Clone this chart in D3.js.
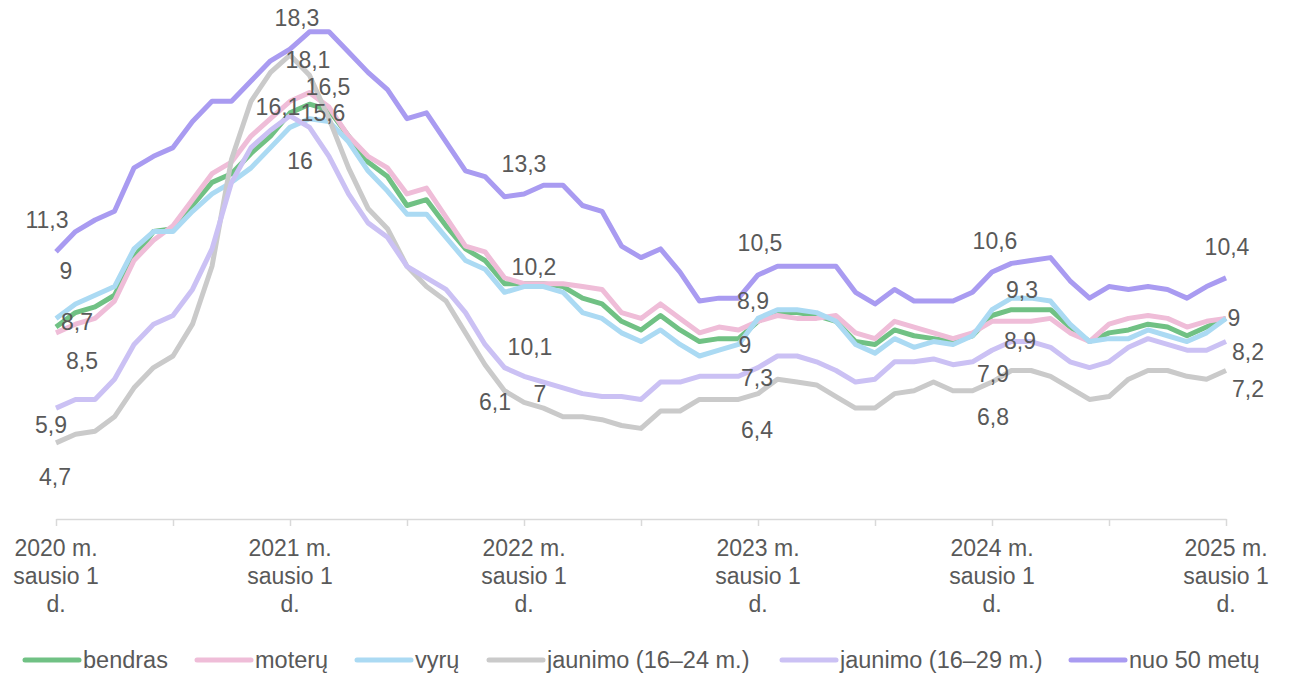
<!DOCTYPE html>
<html lang="lt">
<head>
  <meta charset="utf-8">
  <title>Nedarbo lygis</title>
  <script src="https://d3js.org/d3.v7.min.js"></script>
  <style>
    body {
      margin: 0;
      background: #ffffff;
      font-family: "Liberation Sans", Arial, Helvetica, sans-serif;
    }
    .line {
      fill: none;
      stroke-width: 5px;
      stroke-linejoin: round;
    }
    .data-label {
      font-size: 23px;
      fill: #595959;
    }
    .tick-label {
      font-size: 23px;
      fill: #595959;
    }
    .legend-label {
      font-size: 23.5px;
      fill: #595959;
    }
  </style>
</head>
<body>
<script>
// monthly points, 2020-01 .. 2025-01
var startMonth = new Date(2020, 0, 1);
var monthCount = 61;

var seriesNames = ["bendras", "moterų", "vyrų", "jaunimo (16–24 m.)", "jaunimo (16–29 m.)", "nuo 50 metų"];
var seriesColors = ["#70c184", "#efbdd8", "#abdaf3", "#cacaca", "#cbc1f4", "#a99bf1"];

var bendras = [8.7, 9.2, 9.4, 9.8, 11.1, 12.0, 12.1, 12.9, 13.7, 14.0, 14.7, 15.3,
  16.1, 16.4, 16.2, 15.3, 14.4, 13.9, 12.9, 13.1, 12.2, 11.4, 11.0, 10.2,
  10.2, 10.2, 10.1, 9.7, 9.5, 8.9, 8.6, 9.1, 8.6, 8.2, 8.3, 8.3,
  8.9, 9.2, 9.2, 9.1, 8.9, 8.2, 8.1, 8.6, 8.4, 8.3, 8.2, 8.4,
  9.1, 9.3, 9.3, 9.3, 8.7, 8.2, 8.5, 8.6, 8.8, 8.7, 8.4, 8.7,
  9.0];
var moteru = [8.5, 8.8, 9.0, 9.6, 11.0, 11.7, 12.2, 13.1, 14.0, 14.4, 15.3, 15.9,
  16.5, 16.8, 16.3, 15.3, 14.6, 14.2, 13.3, 13.5, 12.5, 11.5, 11.3, 10.4,
  10.2, 10.2, 10.2, 10.1, 10.0, 9.2, 9.0, 9.5, 9.0, 8.5, 8.7, 8.6,
  8.9, 9.1, 9.0, 9.0, 9.1, 8.5, 8.3, 8.9, 8.7, 8.5, 8.3, 8.5,
  8.9, 8.9, 8.9, 9.0, 8.5, 8.2, 8.8, 9.0, 9.1, 9.0, 8.7, 8.9,
  9.0];
var vyru = [9.0, 9.5, 9.8, 10.1, 11.4, 12.0, 12.0, 12.7, 13.3, 13.7, 14.2, 14.9,
  15.6, 15.9, 15.8, 15.1, 14.1, 13.4, 12.6, 12.6, 11.8, 11.0, 10.7, 9.9,
  10.1, 10.1, 9.9, 9.2, 9.0, 8.5, 8.2, 8.6, 8.1, 7.7, 7.9, 8.1,
  9.0, 9.3, 9.3, 9.2, 8.9, 8.1, 7.8, 8.3, 8.0, 8.2, 8.1, 8.4,
  9.3, 9.7, 9.7, 9.6, 8.8, 8.2, 8.3, 8.3, 8.6, 8.4, 8.2, 8.5,
  9.0];
var jaunimo1624 = [4.7, 5.0, 5.1, 5.6, 6.6, 7.3, 7.7, 8.8, 10.8, 14.5, 16.5, 17.5,
  18.1, 17.4, 15.9, 14.2, 12.8, 12.1, 10.8, 10.1, 9.6, 8.5, 7.4, 6.5,
  6.1, 5.9, 5.6, 5.6, 5.5, 5.3, 5.2, 5.8, 5.8, 6.2, 6.2, 6.2,
  6.4, 6.9, 6.8, 6.7, 6.3, 5.9, 5.9, 6.4, 6.5, 6.8, 6.5, 6.5,
  6.8, 7.2, 7.2, 7.0, 6.6, 6.2, 6.3, 6.9, 7.2, 7.2, 7.0, 6.9,
  7.2];
var jaunimo1629 = [5.9, 6.2, 6.2, 6.9, 8.1, 8.8, 9.1, 10.0, 11.4, 13.7, 14.9, 15.5,
  16.0, 15.6, 14.6, 13.3, 12.3, 11.8, 10.8, 10.4, 10.0, 9.2, 8.1, 7.3,
  7.0, 6.8, 6.6, 6.4, 6.3, 6.3, 6.2, 6.8, 6.8, 7.0, 7.0, 7.0,
  7.3, 7.7, 7.7, 7.5, 7.2, 6.8, 6.9, 7.5, 7.5, 7.6, 7.4, 7.5,
  7.9, 8.2, 8.2, 8.0, 7.5, 7.3, 7.5, 8.0, 8.3, 8.1, 7.9, 7.9,
  8.2];
var nuo50 = [11.3, 12.0, 12.4, 12.7, 14.2, 14.6, 14.9, 15.8, 16.5, 16.5, 17.2, 17.9,
  18.3, 18.9, 18.9, 18.2, 17.5, 16.9, 15.9, 16.1, 15.1, 14.1, 13.9, 13.2,
  13.3, 13.6, 13.6, 12.9, 12.7, 11.5, 11.1, 11.4, 10.6, 9.6, 9.7, 9.7,
  10.5, 10.8, 10.8, 10.8, 10.8, 9.9, 9.5, 10.0, 9.6, 9.6, 9.6, 9.9,
  10.6, 10.9, 11.0, 11.1, 10.3, 9.7, 10.1, 10.0, 10.1, 10.0, 9.7, 10.1,
  10.4];

var seriesValues = [bendras, moteru, vyru, jaunimo1624, jaunimo1629, nuo50];

// x tick every 6 months, label each January
var tickMonths = [0, 6, 12, 18, 24, 30, 36, 42, 48, 54, 60];
var tickLabelLines = ["m.", "sausio 1", "d."];

// data labels: series index, month index, offset of the text centre
var labelSpecs = [
  {s: 5, i: 0, dx: -9, dy: -32}, {s: 2, i: 0, dx: 10, dy: -47},
  {s: 0, i: 0, dx: 21, dy: -5}, {s: 1, i: 0, dx: 26, dy: 28},
  {s: 4, i: 0, dx: -5, dy: 17}, {s: 3, i: 0, dx: -1, dy: 34},
  {s: 5, i: 12, dx: 7, dy: -31}, {s: 3, i: 12, dx: 18, dy: 5},
  {s: 1, i: 12, dx: 38, dy: -14}, {s: 0, i: 12, dx: -12, dy: -6},
  {s: 2, i: 12, dx: 33, dy: -14}, {s: 4, i: 12, dx: 10, dy: 45},
  {s: 5, i: 24, dx: 0, dy: -30}, {s: 1, i: 24, dx: 10, dy: -17},
  {s: 2, i: 24, dx: 6, dy: 60}, {s: 3, i: 24, dx: -29, dy: 0},
  {s: 4, i: 24, dx: 16, dy: 18},
  {s: 5, i: 36, dx: 2, dy: -32}, {s: 0, i: 36, dx: -5, dy: -20},
  {s: 2, i: 36, dx: -13, dy: 27}, {s: 4, i: 36, dx: -1, dy: 10},
  {s: 3, i: 36, dx: -1, dy: 36},
  {s: 5, i: 48, dx: 3, dy: -31}, {s: 2, i: 48, dx: 30, dy: -20},
  {s: 1, i: 48, dx: 28, dy: 20}, {s: 4, i: 48, dx: 1, dy: 24},
  {s: 3, i: 48, dx: 1, dy: 35},
  {s: 5, i: 60, dx: 1, dy: -31}, {s: 2, i: 60, dx: 8, dy: 0},
  {s: 4, i: 60, dx: 22, dy: 10}, {s: 3, i: 60, dx: 22, dy: 19}
];

var width = 1291, height = 679;

var months = d3.range(monthCount).map(function(k) { return d3.timeMonth.offset(startMonth, k); });

var x = d3.scaleLinear().domain([0, monthCount - 1]).range([56, 1226]);
var y = d3.scaleLinear().domain([2, 20]).range([521, 0]);

var svg = d3.select("body").append("svg")
    .attr("width", width)
    .attr("height", height);

// x axis
var xAxis = d3.axisBottom(x)
    .tickValues(tickMonths)
    .tickSize(7)
    .tickSizeOuter(0)
    .tickFormat("");

var axisG = svg.append("g")
    .attr("transform", "translate(0,519)")
    .call(xAxis);
axisG.select(".domain").attr("stroke", "#d9d9d9").attr("stroke-width", 1.5);
axisG.selectAll(".tick line").attr("stroke", "#d9d9d9").attr("stroke-width", 1.5);

var yearTicks = tickMonths.filter(function(m) { return m % 12 === 0; });
var tickText = svg.append("g").selectAll("text")
    .data(yearTicks)
    .enter().append("text")
    .attr("class", "tick-label")
    .attr("text-anchor", "middle");
tickText.each(function(m) {
  var t = d3.select(this);
  var lines = [months[m].getFullYear() + " " + tickLabelLines[0], tickLabelLines[1], tickLabelLines[2]];
  lines.forEach(function(s, k) {
    t.append("tspan")
      .attr("x", x(m))
      .attr("y", 556 + k * 28)
      .text(s);
  });
});

// lines
var line = d3.line()
    .x(function(d, k) { return x(k); })
    .y(function(d) { return y(d); });

svg.append("g").selectAll("path")
    .data(seriesValues)
    .enter().append("path")
    .attr("class", "line")
    .attr("stroke", function(d, k) { return seriesColors[k]; })
    .attr("d", line);

// data labels
var fmt = function(v) { return String(+v.toFixed(1)).replace(".", ","); };
svg.append("g").selectAll("text")
    .data(labelSpecs)
    .enter().append("text")
    .attr("class", "data-label")
    .attr("text-anchor", "middle")
    .attr("dominant-baseline", "central")
    .attr("x", function(d) { return x(d.i) + d.dx; })
    .attr("y", function(d) { return y(seriesValues[d.s][d.i]) + d.dy; })
    .text(function(d) { return fmt(seriesValues[d.s][d.i]); });

// legend
var legendX = [25, 197, 357, 489, 782, 1071];
var legend = svg.append("g").selectAll("g")
    .data(seriesNames)
    .enter().append("g")
    .attr("transform", function(d, k) { return "translate(" + legendX[k] + ",660)"; });
legend.append("line")
    .attr("x1", 0).attr("x2", 54)
    .attr("stroke-width", 5)
    .attr("stroke-linecap", "round")
    .attr("stroke", function(d, k) { return seriesColors[k]; });
legend.append("text")
    .attr("class", "legend-label")
    .attr("x", 58)
    .attr("dominant-baseline", "central")
    .text(function(d) { return d; });
</script>
</body>
</html>
